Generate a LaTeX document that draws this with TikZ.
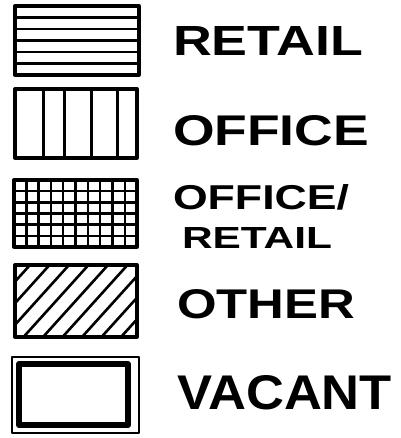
\documentclass[tikz,border=0pt]{standalone}
\usepackage{fontspec}
\usepackage{graphicx}
\setmainfont{Liberation Sans}
\begin{document}
\begin{tikzpicture}[x=1pt,y=-1pt,
  frame/.style={draw=black,line width=3.3pt,line join=round},
  hatch/.style={draw=black,line width=2.6pt,line cap=round},
  lbl/.style={inner sep=0pt,outer sep=0pt,anchor=south west,font=\bfseries}]
\useasboundingbox[fill=white] (0,0) rectangle (400,438);
% RETAIL
\foreach \y in {17.5,29,40.5,52,63.5}
  \draw[hatch] (15,\y) -- (139,\y);
\draw[frame] (15,6) rectangle (139,75);
% OFFICE
\foreach \x in {43,64,91,117}
  \draw[hatch,line width=3pt] (\x,89) -- (\x,158);
\draw[frame] (15,89) rectangle (137,158);
% OFFICE/RETAIL grid
\foreach \i in {1,...,9}
  \draw[hatch,line width=2.4pt] ({14+\i*12.3},180) -- ({14+\i*12.3},247);
\foreach \j in {1,...,5}
  \draw[hatch,line width=2.4pt] (14,{180+\j*11.17}) -- (137,{180+\j*11.17});
\draw[frame] (14,180) rectangle (137,247);
% OTHER hatching
\begin{scope}
  \clip (15,265) rectangle (137,337);
  \foreach \k in {-1,...,8}
    \draw[hatch] ({30+19.5*\k},265) -- ({30+19.5*\k-65},337);
\end{scope}
\draw[frame] (15,265) rectangle (137,337);
% VACANT
\draw[frame,line width=2.8pt] (12,357) rectangle (139,433);
\draw[frame,line width=6pt] (19,364) rectangle (128,425);
% labels
\node[lbl] (retail) at (173,56) {\resizebox{190pt}{29pt}{RETAIL}};
\node[lbl] (office) at (173,146) {\resizebox{196pt}{30pt}{OFFICE}};
\node[lbl] (officeretail1) at (173,210) {\resizebox{176pt}{25pt}{OFFICE/}};
\node[lbl] (officeretail2) at (182,248) {\resizebox{150pt}{21pt}{RETAIL}};
\node[lbl] (other) at (177,319) {\resizebox{178pt}{29pt}{OTHER}};
\node[lbl] (vacant) at (177,410) {\resizebox{215pt}{34pt}{VACANT}};
\end{tikzpicture}
\end{document}
